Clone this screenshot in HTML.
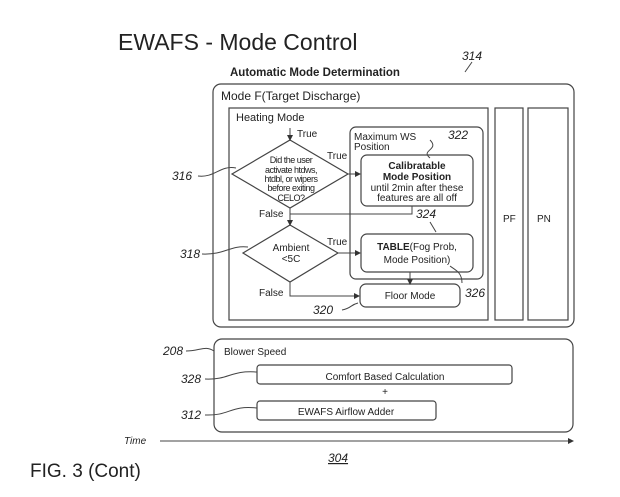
<!DOCTYPE html>
<html><head><style>
body{margin:0;background:#fff;}
svg text{font-family:"Liberation Sans",sans-serif;fill:#222;}
.i{font-style:italic;}
</style></head><body>
<svg width="620" height="492" viewBox="0 0 620 492" xmlns="http://www.w3.org/2000/svg">
<defs><marker id="a" markerWidth="6" markerHeight="6" refX="5" refY="3" orient="auto"><path d="M0,0 L6,3 L0,6 z" fill="#333"/></marker></defs>
<g fill="none" stroke="#444" stroke-width="1.2">
<rect x="213" y="84" width="361" height="243" rx="8"/>
<rect x="229" y="108" width="259" height="212"/>
<rect x="495" y="108" width="28" height="212"/>
<rect x="528" y="108" width="40" height="212"/>
<rect x="350" y="127" width="133" height="152" rx="6"/>
<rect x="361" y="155" width="112" height="51" rx="6"/>
<rect x="361" y="234" width="112" height="38" rx="6"/>
<rect x="360" y="284" width="100" height="23" rx="6"/>
<polygon points="290,140 348,174 290,208 232,174"/>
<polygon points="290,225 338,253 290,282 243,253"/>
<rect x="214" y="339" width="359" height="93" rx="8"/>
<rect x="257" y="365" width="255" height="19" rx="3"/>
<rect x="257" y="401" width="179" height="19" rx="3"/>
</g>
<g fill="none" stroke="#444" stroke-width="1">
<line x1="290" y1="128" x2="290" y2="140" marker-end="url(#a)"/>
<line x1="348" y1="174" x2="360" y2="174" marker-end="url(#a)"/>
<polyline points="412,206 412,214 290,214"/>
<line x1="290" y1="208" x2="290" y2="225" marker-end="url(#a)"/>
<line x1="338" y1="253" x2="360" y2="253" marker-end="url(#a)"/>
<polyline points="290,282 290,296 359,296" marker-end="url(#a)"/>
<line x1="410" y1="272" x2="410" y2="284" marker-end="url(#a)"/>
<line x1="160" y1="441" x2="573" y2="441" marker-end="url(#a)"/>
<path d="M198,176 C215,178 220,165 236,168"/>
<path d="M202,254 C225,255 230,245 248,247"/>
<path d="M430,140 C440,150 420,150 430,158"/>
<path d="M430,222 L436,232"/>
<path d="M462,283 C462,272 455,270 450,266"/>
<path d="M342,310 C352,308 350,305 358,303"/>
<path d="M186,351 C200,351 205,345 214,351"/>
<path d="M205,379 C230,380 230,370 257,372"/>
<path d="M205,415 C230,416 230,405 257,408"/>
<path d="M472,62 L465,72"/>
</g>
<text x="118" y="50" font-size="23">EWAFS - Mode Control</text>
<text x="230" y="76" font-size="11.5" font-weight="bold">Automatic Mode Determination</text>
<text x="462" y="60" font-size="12" class="i">314</text>
<text x="221" y="100" font-size="12">Mode F(Target Discharge)</text>
<text x="236" y="121" font-size="11">Heating Mode</text>
<text x="297" y="137" font-size="10">True</text>
<text x="327" y="159" font-size="10">True</text>
<text x="354" y="140" font-size="10">Maximum WS</text>
<text x="354" y="150" font-size="10">Position</text>
<text x="448" y="139" font-size="12" class="i">322</text>
<g font-size="9" text-anchor="middle" letter-spacing="-0.5">
<text x="291" y="163">Did the user</text>
<text x="291" y="173">activate htdws,</text>
<text x="291" y="182">htdbl, or wipers</text>
<text x="291" y="191">before exiting</text>
<text x="291" y="201">CELO?</text>
</g>
<g font-size="10" text-anchor="middle">
<text x="417" y="169" font-weight="bold">Calibratable</text>
<text x="417" y="180" font-weight="bold">Mode Position</text>
<text x="417" y="191">until 2min after these</text>
<text x="417" y="201">features are all off</text>
<text x="417" y="250"><tspan font-weight="bold">TABLE</tspan>(Fog Prob,</text>
<text x="417" y="263">Mode Position)</text>
<text x="410" y="299">Floor Mode</text>
<text x="291" y="251">Ambient</text>
<text x="291" y="262">&lt;5C</text>
<text x="385" y="380">Comfort Based Calculation</text>
<text x="385" y="395">+</text>
<text x="346" y="415">EWAFS Airflow Adder</text>
</g>
<text x="259" y="217" font-size="10">False</text>
<text x="327" y="245" font-size="10">True</text>
<text x="259" y="296" font-size="10">False</text>
<text x="416" y="218" font-size="12" class="i">324</text>
<text x="465" y="297" font-size="12" class="i">326</text>
<text x="313" y="314" font-size="12" class="i">320</text>
<text x="172" y="180" font-size="12" class="i">316</text>
<text x="180" y="258" font-size="12" class="i">318</text>
<text x="503" y="222" font-size="10">PF</text>
<text x="537" y="222" font-size="10">PN</text>
<text x="224" y="355" font-size="10">Blower Speed</text>
<text x="163" y="355" font-size="12" class="i">208</text>
<text x="181" y="383" font-size="12" class="i">328</text>
<text x="181" y="419" font-size="12" class="i">312</text>
<text x="124" y="444" font-size="10" class="i">Time</text>
<text x="328" y="462" font-size="12" class="i" text-decoration="underline">304</text>
<text x="30" y="477" font-size="19">FIG. 3 (Cont)</text>
</svg>
</body></html>
